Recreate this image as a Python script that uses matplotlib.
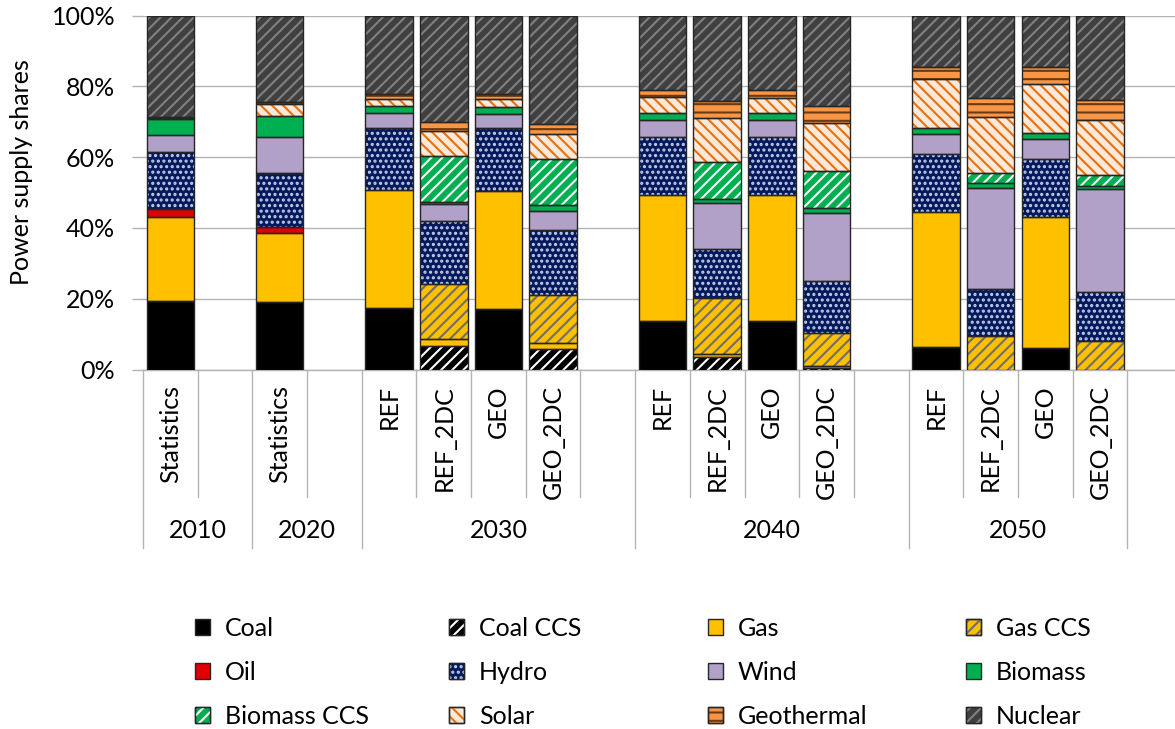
import numpy as np
import matplotlib
matplotlib.use('Agg')
import matplotlib.pyplot as plt
import matplotlib.transforms as mtransforms
from matplotlib.patches import Patch
from matplotlib.lines import Line2D

plt.rcParams['font.family'] = ['Lato', 'DejaVu Sans']
plt.rcParams['hatch.linewidth'] = 1.5

# scenario label for each slot on the category axis ('' = empty spacer slot)
cases = ['Statistics', '', 'Statistics', '',
         'REF', 'REF_2DC', 'GEO', 'GEO_2DC', '',
         'REF', 'REF_2DC', 'GEO', 'GEO_2DC', '',
         'REF', 'REF_2DC', 'GEO', 'GEO_2DC']
years = ['2010', '2020', '2030', '2040', '2050']
year_slots = [2, 2, 5, 5, 4]

# power supply shares (%)
coal        = [19.4, 0, 19.2, 0, 17.3, 0, 17.1, 0, 0, 13.8, 0, 13.8, 0, 0, 6.4, 0, 6.2, 0]
coal_ccs    = [0, 0, 0, 0, 0, 6.6, 0, 5.8, 0, 0, 3.6, 0, 0.4, 0, 0, 0, 0, 0]
gas         = [23.8, 0, 19.5, 0, 33.4, 1.9, 33.4, 1.7, 0, 35.5, 0.8, 35.5, 0.7, 0, 38.1, 0, 37.0, 0]
gas_ccs     = [0, 0, 0, 0, 0, 15.8, 0, 13.6, 0, 0, 15.9, 0, 9.3, 0, 0, 9.6, 0, 8.1]
oil         = [2.2, 0, 1.5, 0, 0, 0, 0, 0, 0, 0, 0, 0, 0, 0, 0, 0, 0, 0]
hydro       = [16.2, 0, 15.3, 0, 17.5, 17.8, 17.7, 18.3, 0, 16.3, 13.8, 16.5, 14.6, 0, 16.3, 13.2, 16.2, 13.7]
wind        = [4.8, 0, 10.2, 0, 4.2, 4.6, 4.0, 5.4, 0, 4.9, 12.9, 4.7, 19.1, 0, 5.7, 28.6, 5.7, 29.1]
biomass     = [4.3, 0, 6.0, 0, 2.1, 0.6, 2.1, 1.7, 0, 1.9, 1.2, 1.9, 1.5, 0, 1.8, 1.2, 1.7, 1.1]
biomass_ccs = [0, 0, 0, 0, 0, 13.0, 0, 13.0, 0, 0, 10.4, 0, 10.6, 0, 0, 2.9, 0, 3.0]
solar       = [0.4, 0, 3.3, 0, 2.0, 7.0, 2.2, 7.1, 0, 4.5, 12.4, 4.4, 13.4, 0, 13.8, 16.0, 13.9, 15.5]
geothermal  = [0.4, 0, 0.5, 0, 1.3, 2.7, 1.3, 2.8, 0, 2.1, 4.9, 2.2, 5.0, 0, 3.5, 5.2, 4.9, 5.7]
nuclear     = [28.5, 0, 24.5, 0, 22.2, 30.0, 22.2, 30.6, 0, 21.0, 24.1, 21.0, 25.4, 0, 14.4, 23.3, 14.4, 23.8]

techs = ['Coal', 'Coal CCS', 'Gas', 'Gas CCS', 'Oil', 'Hydro', 'Wind', 'Biomass',
         'Biomass CCS', 'Solar', 'Geothermal', 'Nuclear']
series = [coal, coal_ccs, gas, gas_ccs, oil, hydro, wind, biomass,
          biomass_ccs, solar, geothermal, nuclear]

# fill colour, hatch pattern, hatch colour
styles = {
    'Coal':        ('#000000', None, None),
    'Coal CCS':    ('#000000', '///', '#ffffff'),
    'Gas':         ('#ffc000', None, None),
    'Gas CCS':     ('#ffc000', '///', '#6e6e6e'),
    'Oil':         ('#e00000', None, None),
    'Hydro':       ('#041a5c', '...', '#c4cdea'),
    'Wind':        ('#b1a0c7', None, None),
    'Biomass':     ('#00b050', None, None),
    'Biomass CCS': ('#00b050', '///', '#ffffff'),
    'Solar':       ('#fde9d9', '\\\\\\', '#e8700f'),
    'Geothermal':  ('#f79646', '--', '#6b3a10'),
    'Nuclear':     ('#404040', '///', '#808080'),
}
outline = '#262626'
fs = 18

fig = plt.figure(figsize=(11.75, 7.29), dpi=100)
ax = fig.add_axes([143 / 1175, 1 - 369.5 / 729, 1039 / 1175, 353.8 / 729])

x = np.arange(len(cases))
width = 0.87
bottom = np.zeros(len(cases))
handles = {}
for name, vals in zip(techs, series):
    vals = np.array(vals, dtype=float)
    face, hatch, hcol = styles[name]
    m = vals > 0
    ax.bar(x[m], vals[m], width, bottom=bottom[m], color=face, linewidth=0, zorder=3)
    if hatch:
        ax.bar(x[m], vals[m], width, bottom=bottom[m], color='none', edgecolor=hcol,
               hatch=hatch, linewidth=0, zorder=4)
    ax.bar(x[m], vals[m], width, bottom=bottom[m], fill=False, edgecolor=outline,
           linewidth=1.0, zorder=5)
    bottom += vals
    base = Patch(facecolor=face, edgecolor=outline, linewidth=1.0)
    if hatch:
        handles[name] = (base, Patch(facecolor='none', edgecolor=hcol, hatch=hatch, linewidth=0),
                         Patch(fill=False, edgecolor=outline, linewidth=1.0))
    else:
        handles[name] = base

ax.set_xlim(-0.5, len(cases) + 0.5)
ax.set_ylim(0, 100)
ax.set_yticks(np.arange(0, 101, 20))
ax.set_yticklabels([f'{v}%' for v in range(0, 101, 20)], fontsize=fs)
ax.yaxis.grid(True, color='#b3b3b3', linewidth=1.0, zorder=0)
ax.tick_params(axis='y', length=8, color='#b3b3b3', width=1.0, pad=12)
ax.set_xticks([])
for s in ['left', 'right', 'top']:
    ax.spines[s].set_visible(False)
ax.spines['bottom'].set_color('#b3b3b3')
ax.spines['bottom'].set_linewidth(1.0)

fig.text(22 / 1175, 1 - 172 / 729, 'Power supply shares', rotation=90,
         ha='center', va='center', fontsize=fs)

# multi-level category axis below the plot
tr = mtransforms.blended_transform_factory(ax.transData, fig.transFigure)
y_axis = 1 - 369.5 / 729
y_short = 1 - 497 / 729
y_tall = 1 - 548 / 729
edges = np.cumsum([0] + year_slots) - 0.5
for b in np.arange(-0.5, len(cases) - 0.4, 1.0):
    y_end = y_tall if np.any(np.isclose(edges, b)) else y_short
    fig.add_artist(Line2D([b, b], [y_axis, y_end], transform=tr, color='#b3b3b3', linewidth=1.0))
for xi, lab in zip(x, cases):
    if lab:
        fig.text(xi, 1 - 385 / 729, lab, transform=tr, rotation=90, ha='center', va='top',
                 fontsize=fs)
for i, yr in enumerate(years):
    xc = (edges[i] + edges[i + 1]) / 2
    fig.text(xc, 1 - 531 / 729, yr, transform=tr, ha='center', va='center', fontsize=fs)

# legend: four columns, three rows
cols = [['Coal', 'Oil', 'Biomass CCS'], ['Coal CCS', 'Hydro', 'Solar'],
        ['Gas', 'Wind', 'Geothermal'], ['Gas CCS', 'Biomass', 'Nuclear']]
col_x = [195, 449, 708, 966]
for names, cx in zip(cols, col_x):
    fig.legend([handles[n] for n in names], names, loc='upper left',
               bbox_to_anchor=(cx / 1175, 1 - 617 / 729), frameon=False, fontsize=fs,
               handlelength=0.6, handleheight=0.6, handletextpad=0.6,
               labelspacing=0.83, borderpad=0, borderaxespad=0)

fig.savefig('out.png', dpi=100)
